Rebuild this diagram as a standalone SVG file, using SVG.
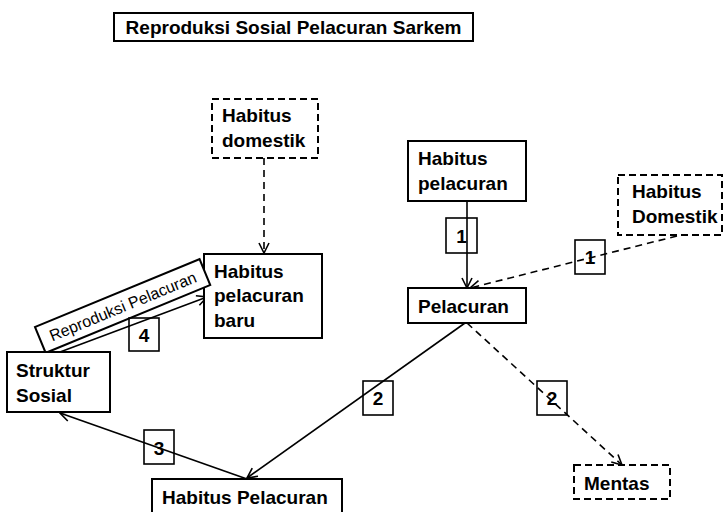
<svg xmlns="http://www.w3.org/2000/svg" width="724" height="512" viewBox="0 0 724 512">
<style>
text{font-family:"Liberation Sans",Arial,sans-serif;font-weight:bold;font-size:19px;fill:#000}
.box{fill:#fff;stroke:#000;stroke-width:2}
.dbox{fill:#fff;stroke:#000;stroke-width:2;stroke-dasharray:7 4}
.num{fill:#fff;stroke:#000;stroke-width:1.6}
.c{fill:none;stroke:#000;stroke-width:1.6;marker-end:url(#ah)}
.d{stroke-dasharray:7 5}
.mid{text-anchor:middle}
.rp{font-weight:normal;font-size:16px}
</style>
<defs>
<marker id="ah" markerUnits="userSpaceOnUse" viewBox="-1 -6 12 12" refX="10" refY="0" markerWidth="12" markerHeight="12" orient="auto">
<path d="M0,-5 L10,0 L0,5" fill="none" stroke="#000" stroke-width="1.6"/>
</marker>
</defs>
<rect width="724" height="512" fill="#fff"/>

<g id="title">
<rect class="box" x="114" y="13" width="359" height="28"/>
<text class="mid" x="293.5" y="34">Reproduksi Sosial Pelacuran Sarkem</text>
</g>

<g id="connectors">
<line class="c d" x1="264" y1="158" x2="264" y2="253"/>
<line class="c" x1="467" y1="201" x2="467" y2="288"/>
<line class="c d" x1="677" y1="236" x2="470" y2="288"/>
<line class="c" x1="465" y1="323" x2="247" y2="478"/>
<line class="c d" x1="467" y1="323" x2="622" y2="465"/>
<line class="c" x1="247" y1="479" x2="60" y2="413"/>
<line class="c" x1="60" y1="352" x2="207" y2="297"/>
</g>

<g id="habitus-domestik-left">
<rect class="dbox" x="212" y="99" width="106" height="59"/>
<text x="222" y="122">Habitus</text>
<text x="222" y="147">domestik</text>
</g>

<g id="habitus-pelacuran-baru">
<rect class="box" x="204" y="254" width="118" height="84"/>
<text x="214" y="278">Habitus</text>
<text x="214" y="302">pelacuran</text>
<text x="214" y="327">baru</text>
</g>

<g id="reproduksi-pelacuran" transform="translate(35,327) rotate(-22.4)">
<rect class="box" x="0" y="0" width="178" height="28" stroke-width="1.6"/>
<text class="mid rp" x="89" y="20">Reproduksi Pelacuran</text>
</g>

<g id="struktur-sosial">
<rect class="box" x="7" y="352" width="103" height="60"/>
<text x="16" y="377">Struktur</text>
<text x="16" y="402">Sosial</text>
</g>

<g id="habitus-pelacuran-bottom">
<rect class="box" x="152" y="479" width="190" height="34"/>
<text x="162" y="504">Habitus Pelacuran</text>
</g>

<g id="habitus-pelacuran">
<rect class="box" x="408" y="141" width="118" height="60"/>
<text x="418" y="165">Habitus</text>
<text x="418" y="190">pelacuran</text>
</g>

<g id="pelacuran">
<rect class="box" x="408" y="288" width="118" height="35"/>
<text x="418" y="313">Pelacuran</text>
</g>

<g id="habitus-domestik-right">
<rect class="dbox" x="618" y="175" width="104" height="60"/>
<text x="632" y="198">Habitus</text>
<text x="632" y="223">Domestik</text>
</g>

<g id="mentas">
<rect class="dbox" x="574" y="465" width="96" height="34"/>
<text x="584" y="490">Mentas</text>
</g>

<g id="label-1a">
<rect class="num" x="446" y="218" width="31" height="35" fill-opacity="0"/>
<text class="mid" x="461.5" y="243">1</text>
</g>
<g id="label-1b">
<rect class="num" x="575" y="240" width="30" height="34" fill-opacity="0"/>
<text class="mid" x="590" y="264">1</text>
</g>
<g id="label-2a">
<rect class="num" x="363" y="381" width="30" height="34" fill-opacity="0"/>
<text class="mid" x="378" y="405">2</text>
</g>
<g id="label-2b">
<rect class="num" x="537" y="381" width="30" height="34" fill-opacity="0"/>
<text class="mid" x="552" y="405">2</text>
</g>
<g id="label-3">
<rect class="num" x="144" y="430" width="30" height="34" fill-opacity="0"/>
<text class="mid" x="159" y="455">3</text>
</g>
<g id="label-4">
<rect class="num" x="129" y="318" width="30" height="33" fill-opacity="0"/>
<text class="mid" x="144" y="342">4</text>
</g>
</svg>
